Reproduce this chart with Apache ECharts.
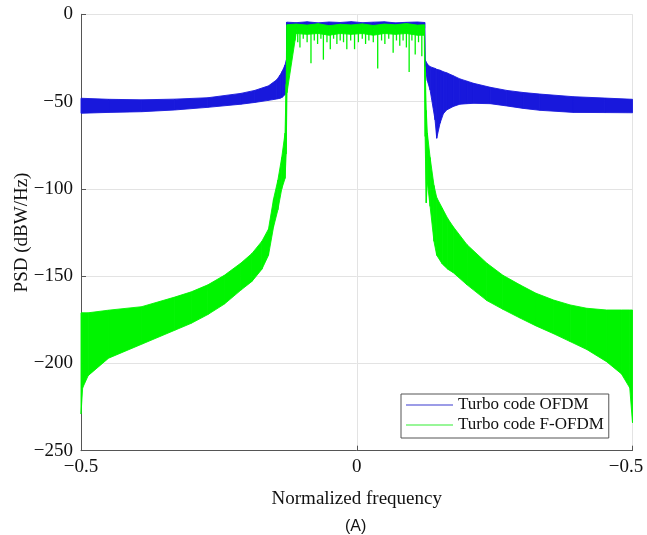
<!DOCTYPE html>
<html>
<head>
<meta charset="utf-8">
<title>PSD</title>
<script src="https://cdn.jsdelivr.net/npm/echarts@6/dist/echarts.min.js"></script>
<style>
  html, body { margin: 0; padding: 0; background: #fff; }
  #chart { width: 647px; height: 535px; }
</style>
</head>
<body>
<div id="chart"></div>
<script>
// tick labels as printed on the figure
const xTickLabels = ['−0.5', '0', '−0.5'];
const yTickLabels = ['0', '−50', '−100', '−150', '−200', '−250'];

// Turbo code OFDM: upper / lower edge of the oscillating trace (dB)
const ofdmFreq = [-0.5, -0.45, -0.39, -0.33, -0.27, -0.21, -0.185, -0.16, -0.145, -0.139, -0.135, -0.13, -0.1275, -0.127,
  -0.11, -0.09, -0.07, -0.05, -0.03, -0.01, 0.01, 0.03, 0.05, 0.07, 0.09, 0.11, 0.1232,
  0.124, 0.128, 0.133, 0.142, 0.145, 0.151, 0.157, 0.163, 0.175,
  0.187, 0.2, 0.2115, 0.242, 0.272, 0.302, 0.332, 0.393, 0.45, 0.5];
const ofdmHigh = [-48.1, -48.7, -49, -48.6, -47.8, -45.3, -43.6, -41, -37.5, -34.8, -32.5, -29, -26, -4.5,
  -4.8, -4.3, -4.9, -4.4, -4.7, -4.2, -4.8, -4.5, -4.3, -4.9, -4.6, -4.4, -4.7,
  -26, -28.5, -30, -31, -31.5, -32, -32.9, -33.5, -35.2,
  -37, -38.3, -39.5, -41.8, -43.6, -44.8, -45.7, -47.2, -48, -48.7];
const ofdmLow = [-56.7, -56.2, -55.8, -54.8, -53.3, -51.5, -50.5, -49.3, -48.5, -48.1, -47.5, -46, -44, -8,
  -8, -8, -8, -8, -8, -8, -8, -8, -8, -8, -8, -8, -8,
  -30, -38, -43.4, -60.5, -71, -62.4, -57, -54.8, -52.8,
  -51.5, -51.2, -51, -51.2, -52.5, -53.9, -55, -56.2, -56.3, -56.4];

// Turbo code F-OFDM: upper / lower edge of the trace (dB)
const fofdmFreq = [-0.5, -0.497, -0.487, -0.45, -0.39, -0.33, -0.3, -0.27, -0.24, -0.21, -0.19, -0.172,
  -0.16, -0.151, -0.143, -0.136, -0.13, -0.128, -0.1265,
  -0.11, -0.09, -0.07, -0.05, -0.03, -0.01, 0.01, 0.03, 0.05, 0.07, 0.09, 0.11, 0.1225,
  0.124, 0.126, 0.128, 0.133, 0.14, 0.145, 0.155, 0.165, 0.175, 0.2, 0.236, 0.265, 0.296,
  0.325, 0.357, 0.387, 0.417, 0.453, 0.48, 0.495, 0.5];
const fofdmHigh = [-171, -171, -171, -169.5, -167.5, -162, -159, -155, -149.5, -142.5, -137, -130,
  -123, -106, -95, -82, -68, -40, -6,
  -5.6, -6.2, -5.4, -6.5, -5.7, -6.1, -5.5, -6.4, -5.6, -6, -5.3, -6.2, -6,
  -30, -55, -68, -82, -98, -105, -111, -117, -121.7, -132, -142.6, -149.5, -155,
  -159.8, -163.7, -166.5, -168.4, -169.4, -169.4, -169.4, -169.4];
const fofdmLow = [-229, -214, -207, -197, -189, -181, -177, -172, -166, -158, -153, -146,
  -138, -122, -112, -100, -94, -80, -45,
  -11, -11.5, -11, -12, -11, -11.5, -11, -12, -11, -11.5, -11, -12, -12,
  -70, -108, -96, -110, -130, -138, -143, -146, -148, -155, -164, -169, -174,
  -178.5, -183, -187.5, -192, -199, -206, -214, -234];

// narrow downward spikes of the F-OFDM trace inside the pass band
const fofdmDipFreq = [-0.122, -0.118, -0.112, -0.107, -0.103, -0.097, -0.09, -0.083, -0.077, -0.071,
  -0.065, -0.0605, -0.054, -0.048, -0.042, -0.036, -0.03, -0.024, -0.018, -0.011,
  -0.004, 0.003, 0.01, 0.016, 0.022, 0.03, 0.038, 0.045, 0.051, 0.058,
  0.066, 0.072, 0.078, 0.084, 0.09, 0.095, 0.1, 0.106, 0.112, 0.118];
const fofdmDipLevel = [-17, -22, -15, -16, -19, -14, -16, -28, -15, -17,
  -14, -26, -16, -20, -14, -17, -15, -16, -20, -15,
  -20, -16, -14, -17, -15, -16, -31, -15, -17, -14,
  -22, -15, -18, -15, -19, -33, -15, -23, -16, -24];

const blue = '#1818dc';
const green = '#00f400';

function segments(freq, low, high) {
  const out = [];
  for (let i = 0; i < freq.length - 1; i++) {
    out.push([freq[i], low[i], high[i], freq[i + 1], low[i + 1], high[i + 1]]);
  }
  return out;
}

// each item is the strip between two neighbouring samples
function bandItem(params, api) {
  const x0 = api.value(0), x1 = api.value(3);
  const pts = [
    api.coord([x0, api.value(2)]),
    api.coord([x1, api.value(5)]),
    api.coord([x1, api.value(4)]),
    api.coord([x0, api.value(1)])
  ];
  const c = api.visual('color');
  return {
    type: 'polygon',
    shape: { points: pts },
    style: { fill: c, stroke: c, lineWidth: 0.9 }
  };
}

function dipItem(params, api) {
  const top = api.coord([api.value(0), -9]);
  const bot = api.coord([api.value(0), api.value(1)]);
  return {
    type: 'line',
    shape: { x1: top[0], y1: top[1], x2: bot[0], y2: bot[1] },
    style: { stroke: api.visual('color'), lineWidth: 1.3 }
  };
}

const serif = 'Liberation Serif';
const chart = echarts.init(document.getElementById('chart'));

chart.setOption({
  animation: false,
  title: {
    text: '(A)',
    left: 345,
    top: 519,
    padding: 0,
    textStyle: { fontFamily: 'Liberation Sans', fontSize: 16, fontWeight: 'normal', color: '#111' }
  },
  grid: { left: 81, right: 14.5, top: 14.3, bottom: 84.3, outerBoundsMode: 'none' },
  legend: {
    orient: 'vertical',
    left: 401,
    top: 394,
    padding: [1, 5, 3, 5],
    itemGap: 0,
    itemWidth: 47,
    itemHeight: 1.2,
    backgroundColor: '#fff',
    borderColor: '#555',
    borderWidth: 1,
    borderRadius: 0,
    textStyle: { fontFamily: serif, fontSize: 17, color: '#111', lineHeight: 20 },
    data: [
      { name: 'Turbo code OFDM', icon: 'rect', itemStyle: { color: '#3a3ad0' } },
      { name: 'Turbo code F-OFDM', icon: 'rect', itemStyle: { color: '#33ee33' } }
    ]
  },
  xAxis: {
    type: 'value',
    min: -0.5,
    max: 0.5,
    interval: 0.5,
    name: 'Normalized frequency',
    nameLocation: 'middle',
    nameGap: 39,
    nameTextStyle: { fontFamily: serif, fontSize: 19, color: '#111' },
    axisLine: { onZero: false, lineStyle: { color: '#555' } },
    axisTick: { inside: true, length: 5, lineStyle: { color: '#555' } },
    splitLine: { show: true, lineStyle: { color: '#e3e3e3' } },
    axisLabel: {
      margin: 7,
      fontFamily: serif,
      fontSize: 19,
      color: '#111',
      formatter: function (v) {
        const i = Math.round((v + 0.5) / 0.5);
        return i === xTickLabels.length - 1 ? '{r|' + xTickLabels[i] + '}' : xTickLabels[i];
      },
      rich: { r: { fontFamily: serif, fontSize: 19, color: '#111', padding: [0, 13, 0, 0] } }
    }
  },
  yAxis: {
    type: 'value',
    min: -250,
    max: 0,
    interval: 50,
    name: 'PSD (dBW/Hz)',
    nameLocation: 'middle',
    nameGap: 49,
    nameMoveOverlap: false,
    nameRotate: 90,
    nameTextStyle: { fontFamily: serif, fontSize: 19, color: '#111' },
    axisLine: { show: true, onZero: false, lineStyle: { color: '#555' } },
    axisTick: { show: true, inside: true, length: 5, lineStyle: { color: '#555' } },
    splitLine: { show: true, lineStyle: { color: '#e3e3e3' } },
    axisLabel: {
      margin: 8,
      fontFamily: serif,
      fontSize: 19,
      color: '#111',
      formatter: function (v) { return yTickLabels[Math.round(-v / 50)]; }
    }
  },
  series: [
    {
      name: 'Turbo code OFDM',
      type: 'custom',
      renderItem: bandItem,
      itemStyle: { color: blue },
      encode: { x: [0, 3], y: [1, 2, 4, 5] },
      data: segments(ofdmFreq, ofdmLow, ofdmHigh),
      silent: true,
      z: 2
    },
    {
      name: 'Turbo code F-OFDM',
      type: 'custom',
      renderItem: bandItem,
      itemStyle: { color: green },
      encode: { x: [0, 3], y: [1, 2, 4, 5] },
      data: segments(fofdmFreq, fofdmLow, fofdmHigh),
      silent: true,
      z: 3
    },
    {
      name: 'Turbo code F-OFDM',
      type: 'custom',
      renderItem: dipItem,
      itemStyle: { color: green },
      encode: { x: 0, y: 1 },
      data: fofdmDipFreq.map(function (f, i) { return [f, fofdmDipLevel[i]]; }),
      silent: true,
      z: 3
    }
  ]
});

window.addEventListener('resize', function () { chart.resize(); });
</script>
</body>
</html>
